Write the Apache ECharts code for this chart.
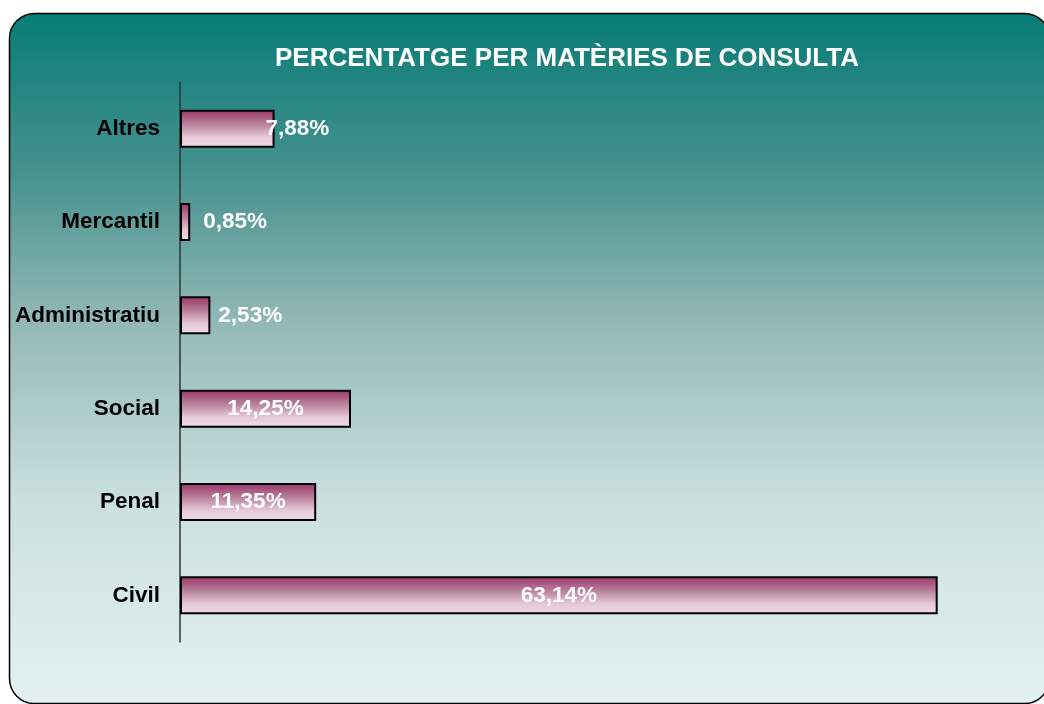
<!DOCTYPE html>
<html>
<head>
<meta charset="utf-8">
<script src="https://cdn.jsdelivr.net/npm/echarts@6/dist/echarts.min.js"></script>
<style>
html,body{margin:0;padding:0;background:#fff;}
#c{width:1044px;height:704px;}
</style>
</head>
<body>
<div id="c"></div>
<script>
var titleText = 'PERCENTATGE PER MATÈRIES DE CONSULTA';
var categories = ['Civil', 'Penal', 'Social', 'Administratiu', 'Mercantil', 'Altres'];
var values = [63.14, 11.35, 14.25, 2.53, 0.85, 7.88];

var labelPlacement = {
  'Civil': {position: 'inside'},
  'Penal': {position: 'inside'},
  'Social': {position: 'inside'},
  'Administratiu': {position: 'right', distance: 8},
  'Mercantil': {position: 'right', distance: 13},
  'Altres': {position: 'right', distance: -9}
};

var fontFam = '"Liberation Sans", Arial, sans-serif';

var seriesData = values.map(function (v, i) {
  return {value: v, label: labelPlacement[categories[i]]};
});

var chart = echarts.init(document.getElementById('c'));
chart.setOption({
  animation: false,
  graphic: [{
    type: 'rect',
    z: -10,
    silent: true,
    shape: {x: 9.5, y: 13.5, width: 1040, height: 690, r: 25},
    style: {
      fill: new echarts.graphic.LinearGradient(0, 0, 0, 1, [
        {offset: 0, color: '#087c77'},
        {offset: 0.22, color: '#43908d'},
        {offset: 0.45, color: '#93b9b7'},
        {offset: 0.7, color: '#c9dfde'},
        {offset: 1, color: '#e4f1f1'}
      ]),
      stroke: '#000',
      lineWidth: 1.5
    }
  }],
  title: {
    text: titleText,
    left: 562,
    top: 41,
    textAlign: 'center',
    textStyle: {color: '#fff', fontSize: 26, fontWeight: 'bold', fontFamily: fontFam}
  },
  grid: {left: 180, top: 82, width: 840, height: 560, containLabel: false},
  xAxis: {
    type: 'value', min: 0, max: 70, show: false
  },
  yAxis: {
    type: 'category',
    data: categories,
    axisTick: {show: false},
    axisLine: {show: true, lineStyle: {color: '#333', width: 1.5}},
    axisLabel: {margin: 20, color: '#000', fontSize: 22.5, fontWeight: 'bold', fontFamily: fontFam},
    splitLine: {show: false}
  },
  series: [{
    type: 'bar',
    data: seriesData,
    barWidth: 38,
    itemStyle: {
      color: new echarts.graphic.LinearGradient(0, 0, 0, 1, [
        {offset: 0, color: '#983263'},
        {offset: 0.4, color: '#bb859f'},
        {offset: 0.72, color: '#e4c8d5'},
        {offset: 1, color: '#efdce6'}
      ]),
      borderColor: '#000',
      borderWidth: 2
    },
    label: {
      show: true,
      color: '#fff',
      fontSize: 22.5,
      fontWeight: 'bold',
      fontFamily: fontFam,
      formatter: function (p) { return p.value.toFixed(2).replace('.', ',') + '%'; }
    }
  }]
});
</script>
</body>
</html>
